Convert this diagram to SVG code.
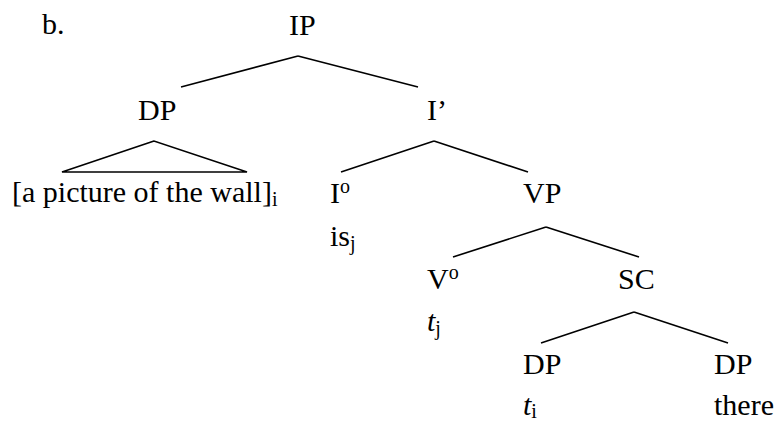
<svg xmlns="http://www.w3.org/2000/svg" width="780" height="422" viewBox="0 0 780 422">
<style>
text{font-family:"Liberation Serif","Times New Roman",Tinos,"Nimbus Roman","DejaVu Serif",serif;font-size:30px;fill:#000}
.sub{font-size:20px}
.sup{font-size:20px}
.it{font-style:italic}
line{stroke:#000;stroke-width:1.6}
</style>
<rect width="780" height="422" fill="#fff"/>
<text id="label" x="42" y="34">b.</text>
<g id="connectors">
<line x1="298" y1="56" x2="181" y2="87"/>
<line x1="298" y1="56" x2="418" y2="87"/>
<polygon points="154,141 62,172 247,172" fill="none" stroke="#000" stroke-width="1.6"/>
<line x1="434" y1="141" x2="341" y2="172"/>
<line x1="434" y1="141" x2="528" y2="172"/>
<line x1="546" y1="227" x2="453" y2="257"/>
<line x1="546" y1="227" x2="639" y2="257"/>
<line x1="634" y1="312" x2="541" y2="343"/>
<line x1="634" y1="312" x2="728" y2="343"/>
</g>
<g id="IP"><text x="289" y="35">IP</text></g>
<g id="DP1"><text x="138" y="120">DP</text></g>
<g id="DP1-text"><text x="12" y="202">[a picture of the wall]<tspan class="sub" dy="4">i</tspan></text></g>
<g id="Ibar"><text x="427" y="120">I’</text></g>
<g id="I0"><text x="330" y="203">I<tspan class="sup" dy="-10">o</tspan></text></g>
<g id="is"><text x="330" y="246">is<tspan class="sub" dy="4">j</tspan></text></g>
<g id="VP"><text x="523" y="203">VP</text></g>
<g id="V0"><text x="427" y="289">V<tspan class="sup" dy="-10">o</tspan></text></g>
<g id="tj"><text x="427" y="331"><tspan class="it">t</tspan><tspan class="sub" dy="4">j</tspan></text></g>
<g id="SC"><text x="618" y="289">SC</text></g>
<g id="DP2"><text x="523" y="374">DP</text></g>
<g id="ti"><text x="523" y="415"><tspan class="it">t</tspan><tspan class="sub" dy="3">i</tspan></text></g>
<g id="DP3"><text x="714" y="374">DP</text></g>
<g id="there"><text x="714" y="415">there</text></g>
</svg>
